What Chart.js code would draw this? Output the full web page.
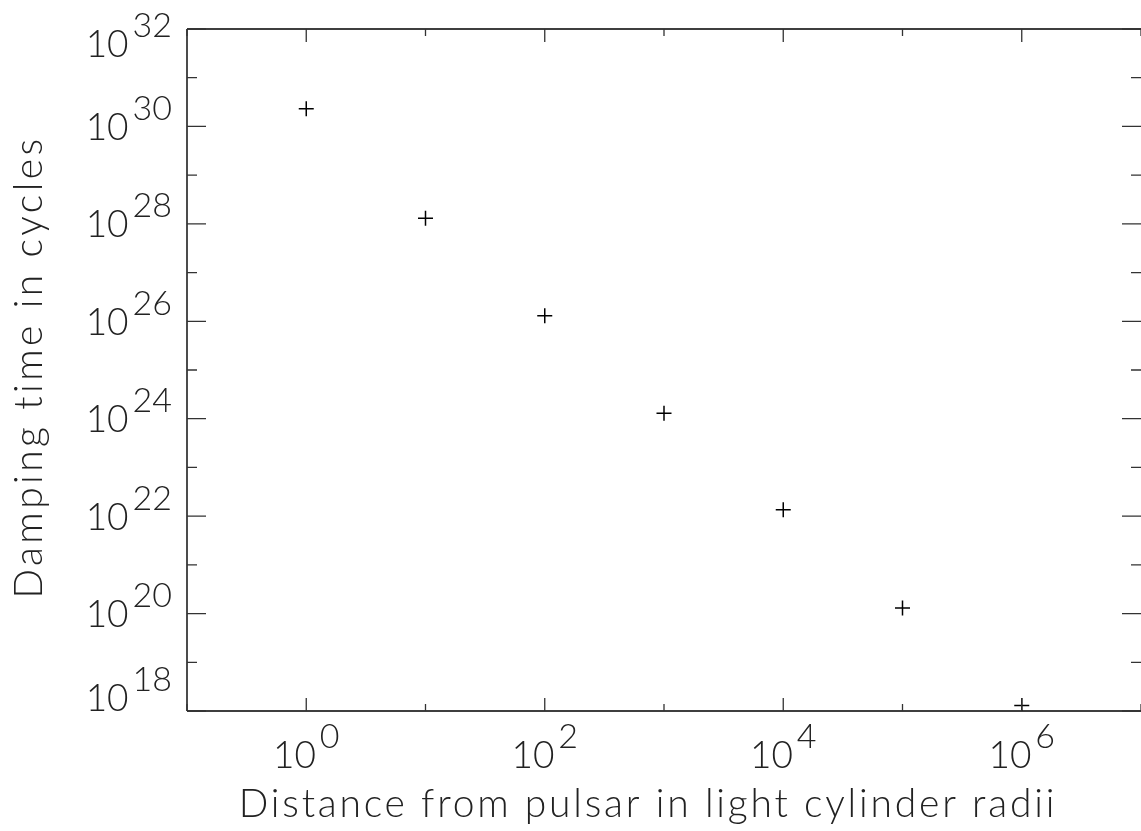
<!DOCTYPE html>
<html>
<head>
<meta charset="utf-8">
<script src="https://cdn.jsdelivr.net/npm/chart.js@4"></script>
<style>
  html, body { margin: 0; padding: 0; background: #fff; overflow: hidden; }
  #wrap { width: 1141px; height: 831px; position: relative; }
</style>
</head>
<body>
<div id="wrap"><canvas id="c"></canvas></div>
<script>
// ---- data ----
const distances = [1, 10, 100, 1000, 10000, 100000, 1000000];
const dampingTimes = [2.3e30, 1.3e28, 1.3e26, 1.3e24, 1.35e22, 1.3e20, 1.3e18];
const xTickExponents = [-1, 0, 1, 2, 3, 4, 5, 6, 7];
const xLabelExponents = [0, 2, 4, 6];
const yTickExponents = [18, 19, 20, 21, 22, 23, 24, 25, 26, 27, 28, 29, 30, 31, 32];
const yLabelExponents = [18, 20, 22, 24, 26, 28, 30, 32];
const xTitle = 'Distance from pulsar in light cylinder radii';
const yTitle = 'Damping time in cycles';

const FONT = 'Lato, "Open Sans", "DejaVu Sans", sans-serif';
const TEXT_COLOR = '#222';

const framePlugin = {
  id: 'pgframe',
  afterDraw(chart) {
    const ctx = chart.ctx;
    const a = chart.chartArea;
    const xs = chart.scales.x, ys = chart.scales.y;
    ctx.save();
    // frame (right edge falls at the canvas border)
    ctx.strokeStyle = '#000';
    ctx.lineWidth = 1.4;
    ctx.beginPath();
    ctx.moveTo(a.left, a.top); ctx.lineTo(a.right, a.top);
    ctx.moveTo(a.left, a.bottom); ctx.lineTo(a.right, a.bottom);
    ctx.moveTo(a.left, a.top); ctx.lineTo(a.left, a.bottom);
    ctx.stroke();
    // ticks
    ctx.strokeStyle = '#333';
    ctx.lineWidth = 1.3;
    ctx.beginPath();
    xTickExponents.forEach(e => {
      const px = xs.getPixelForValue(Math.pow(10, e));
      const len = (e % 2 === 0) ? 13 : 7;
      ctx.moveTo(px, a.bottom); ctx.lineTo(px, a.bottom - len);
      ctx.moveTo(px, a.top); ctx.lineTo(px, a.top + len);
    });
    yTickExponents.forEach(e => {
      const py = ys.getPixelForValue(Math.pow(10, e));
      const len = (e % 2 === 0) ? 19 : 10;
      ctx.moveTo(a.left, py); ctx.lineTo(a.left + len, py);
      ctx.moveTo(a.right, py); ctx.lineTo(a.right - len, py);
    });
    ctx.stroke();

    // tick labels
    const baseSize = 37, supSize = 34, raise = 20, cap = 27;
    ctx.fillStyle = TEXT_COLOR;
    ctx.textBaseline = 'alphabetic';
    function measure(exp) {
      ctx.font = '300 ' + baseSize + 'px ' + FONT;
      const bw = ctx.measureText('10').width;
      ctx.font = '300 ' + supSize + 'px ' + FONT;
      const sw = ctx.measureText(String(exp)).width;
      return { bw, sw, gap: 4 };
    }
    function drawLabel(exp, left, baseline) {
      const m = measure(exp);
      ctx.textAlign = 'left';
      ctx.font = '300 ' + baseSize + 'px ' + FONT;
      ctx.fillText('10', left, baseline);
      ctx.font = '300 ' + supSize + 'px ' + FONT;
      ctx.fillText(String(exp), left + m.bw + m.gap, baseline - raise);
    }
    xLabelExponents.forEach(e => {
      const px = xs.getPixelForValue(Math.pow(10, e));
      const m = measure(e);
      const total = m.bw + m.gap + m.sw;
      drawLabel(e, px - total / 2, a.bottom + 57);
    });
    yLabelExponents.forEach(e => {
      const py = ys.getPixelForValue(Math.pow(10, e));
      const m = measure(e);
      const total = m.bw + m.gap + m.sw;
      let baseline = py + cap / 2;
      baseline = Math.max(a.top + cap + 1, Math.min(a.bottom, baseline));
      drawLabel(e, a.left - 15 - total, baseline);
    });

    // axis titles
    ctx.font = '300 39px ' + FONT;
    ctx.textAlign = 'center';
    if ('letterSpacing' in ctx) ctx.letterSpacing = '2.8px';
    ctx.fillText(xTitle, 648, 817);
    if ('letterSpacing' in ctx) ctx.letterSpacing = '3.4px';
    ctx.save();
    ctx.translate(42, 367);
    ctx.rotate(-Math.PI / 2);
    ctx.fillText(yTitle, 0, 0);
    ctx.restore();
    ctx.restore();
  }
};

new Chart(document.getElementById('c'), {
  type: 'scatter',
  data: {
    datasets: [{
      data: distances.map((d, i) => ({ x: d, y: dampingTimes[i] })),
      pointStyle: 'cross',
      pointRadius: 7.5,
      pointHoverRadius: 7.5,
      borderWidth: 1.5,
      borderColor: '#000',
      backgroundColor: '#000'
    }]
  },
  options: {
    responsive: true,
    maintainAspectRatio: false,
    animation: false,
    events: [],
    layout: { autoPadding: false, padding: { left: 187, top: 29, right: 0, bottom: 120 } },
    plugins: { legend: { display: false }, tooltip: { enabled: false } },
    scales: {
      x: { type: 'logarithmic', min: 0.1, max: 1e7, display: false },
      y: { type: 'logarithmic', min: 1e18, max: 1e32, display: false }
    }
  },
  plugins: [framePlugin]
});
</script>
</body>
</html>
